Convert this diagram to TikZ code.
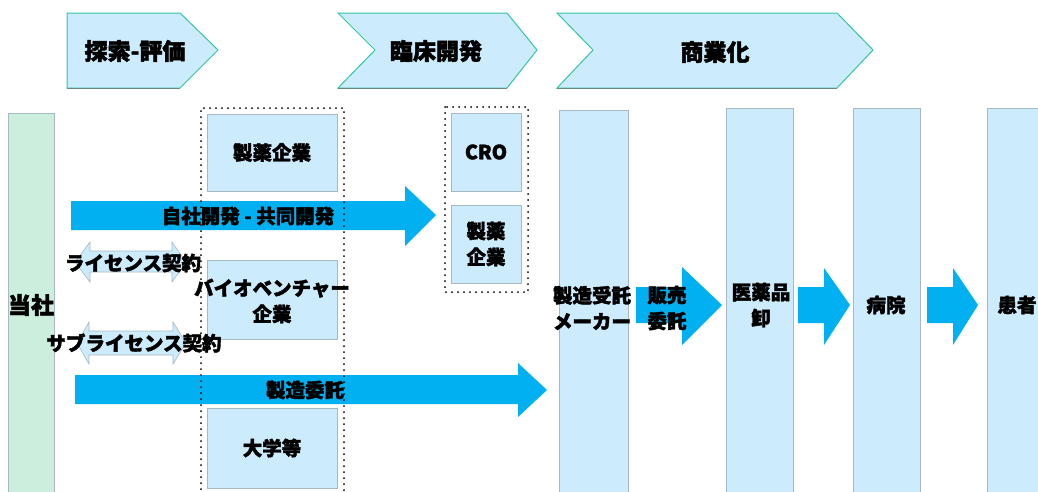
\documentclass[tikz,border=0pt]{standalone}
\usepackage{fontspec}
\setmainfont{Noto Sans CJK JP}[BoldFeatures={FakeBold=2}]
\definecolor{lb}{HTML}{CCEBFC}
\definecolor{lg}{HTML}{CCEEDC}
\definecolor{chevb}{HTML}{33C6A0}
\definecolor{chevshade}{HTML}{6A8A80}
\definecolor{arrowblue}{HTML}{00B0F0}
\definecolor{edgegray}{HTML}{A8B8C0}
\begin{document}
\begin{tikzpicture}[x=1pt,y=-1pt,
  lbl/.style={font=\fontsize{19.5}{26}\selectfont\bfseries, align=center, inner sep=0pt},
  big/.style={font=\fontsize{23}{26}\selectfont\bfseries, inner sep=0pt},
  chev/.style={fill=lb, draw=chevb, line width=1pt},
  chevbottom/.style={draw=chevshade, line width=1pt},
  col/.style={fill=lb, draw=edgegray, line width=0.8pt},
  boxn/.style={col, font=\fontsize{19.5}{26}\selectfont\bfseries, align=center, inner sep=0pt},
  blk/.style={fill=arrowblue},
  dbl/.style={fill=lb, draw=edgegray, line width=0.6pt},
  dotbox/.style={draw=black, line width=2pt, dash pattern=on 0pt off 6pt, line cap=round}]
\useasboundingbox (0,0) rectangle (1038,491);
% phase chevrons
\draw[chev] (67,13) -- (180,13) -- (218,50) -- (180,88) -- (67,88) -- cycle;
\draw[chevbottom] (67,88) -- (180,88);
\node[big] (c1) at (135,51) {探索-評価};
\draw[chev] (338,13) -- (507,13) -- (537,50) -- (507,88) -- (338,88) -- (375,50) -- cycle;
\draw[chevbottom] (338,88) -- (507,88);
\node[big] (c2) at (436,51) {臨床開発};
\draw[chev] (557,13) -- (837,13) -- (873,50) -- (837,88) -- (557,88) -- (593,50) -- cycle;
\draw[chevbottom] (557,88) -- (837,88);
\node[big] (c3) at (715,52) {商業化};
% columns
\draw[fill=lg, draw=edgegray, line width=0.8pt] (8,113) rectangle (54,500);
\draw[col] (559,110) rectangle (628,500);
\draw[col] (726,108) rectangle (793,500);
\draw[col] (853,108) rectangle (920,500);
\draw[col] (987,108) rectangle (1050,500);
% block arrows
\fill[blk] (71,201) -- (405,201) -- (405,186) -- (436,215) -- (405,246) -- (405,230) -- (71,230) -- cycle;
\fill[blk] (75,375) -- (518,375) -- (518,363) -- (547,390) -- (518,417) -- (518,404) -- (75,404) -- cycle;
\fill[blk] (636,287) -- (682,287) -- (682,267) -- (722,305) -- (682,345) -- (682,323) -- (636,323) -- cycle;
\fill[blk] (798,287) -- (824,287) -- (824,268) -- (850,305) -- (824,345) -- (824,323) -- (798,323) -- cycle;
\fill[blk] (927,287) -- (953,287) -- (953,268) -- (978,305) -- (953,345) -- (953,323) -- (927,323) -- cycle;
% double arrows
\draw[dbl] (75,262) -- (90,242) -- (90,251) -- (172,251) -- (172,242) -- (186,262) -- (172,282) -- (172,272) -- (90,272) -- (90,282) -- cycle;
\draw[dbl] (77,343) -- (89,322) -- (89,331) -- (173,331) -- (173,322) -- (186,343) -- (173,364) -- (173,355) -- (89,355) -- (89,364) -- cycle;
% dotted groups
\draw[dotbox] (201,495) -- (201,108) -- (344,108) -- (344,495);
\draw[dotbox] (445,107) rectangle (528,292);
% boxes
\node[boxn, minimum width=130pt, minimum height=77pt] (pharma1) at (272,152.5) {製薬企業};
\node[boxn, minimum width=130pt, minimum height=79pt] (bio) at (272,299.5) {};
\node[boxn, minimum width=130pt, minimum height=80pt] (univ) at (272,448) {大学等};
\node[boxn, minimum width=70pt, minimum height=78pt] (cro) at (486,152) {CRO};
\node[boxn, minimum width=70pt, minimum height=78pt] (pharma2) at (486,244) {製薬\\企業};
% labels
\node[big] (tosha) at (31,305) {当社};
\node[lbl] (biotxt) at (272,301) {バイオベンチャー\\企業};
\node[lbl] (jisha) at (248,216) {自社開発 - 共同開発};
\node[lbl] (lic) at (133,263) {ライセンス契約};
\node[lbl] (sublic) at (134,343) {サブライセンス契約};
\node[lbl] (itaku) at (305,390) {製造委託};
\node[lbl] (maker) at (592,308) {製造受託\\メーカー};
\node[lbl] (hanbai) at (667,308) {販売\\委託};
\node[lbl] (oroshi) at (761,305) {医薬品\\卸};
\node[lbl] (hosp) at (886,305) {病院};
\node[lbl] (patient) at (1017,305) {患者};
\end{tikzpicture}
\end{document}
